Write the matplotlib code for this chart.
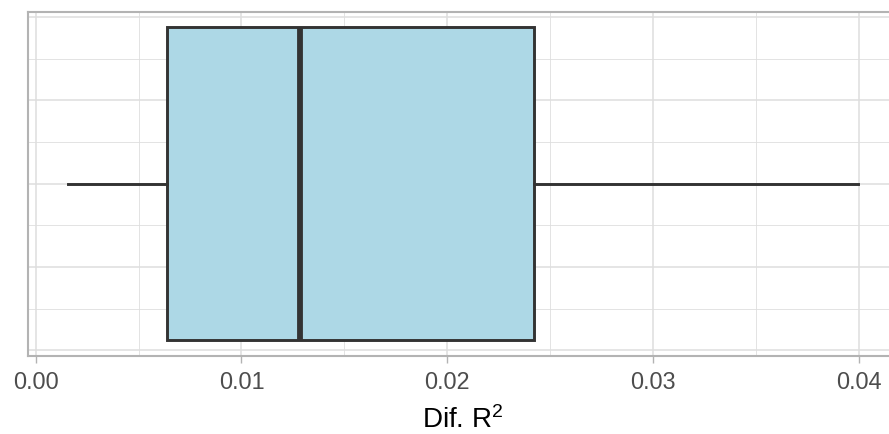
import matplotlib
matplotlib.use("Agg")
import matplotlib.pyplot as plt

# boxplot summary of Dif. R^2
whisker_lo = 0.00155
q1 = 0.00637
median = 0.01283
q3 = 0.02419
whisker_hi = 0.03995

x_major = [0.00, 0.01, 0.02, 0.03, 0.04]
x_minor = [0.005, 0.015, 0.025, 0.035]
x_labels = ["0.00", "0.01", "0.02", "0.03", "0.04"]
y_major = [-0.4, -0.2, 0.0, 0.2, 0.4]
y_minor = [-0.3, -0.1, 0.1, 0.3]

plt.rcParams["font.family"] = ["Liberation Sans", "DejaVu Sans"]
plt.rcParams["mathtext.default"] = "regular"

fig = plt.figure(figsize=(8.89, 4.35), dpi=100)
ax = fig.add_axes([28 / 889, 1 - 356.5 / 435, 869.6 / 889, 343.8 / 435])

stats = [dict(whislo=whisker_lo, q1=q1, med=median, q3=q3, whishi=whisker_hi, fliers=[])]
ax.bxp(stats, positions=[0], widths=0.75, orientation="horizontal", patch_artist=True,
       showcaps=False, zorder=3,
       boxprops=dict(facecolor="#ADD8E6", edgecolor="#333333", linewidth=2.1),
       whiskerprops=dict(color="#333333", linewidth=2.1),
       medianprops=dict(color="#333333", linewidth=4.2, solid_capstyle="butt"))

span = whisker_hi - whisker_lo
ax.set_xlim(whisker_lo - 0.05 * span, whisker_hi + 0.05 * span)
ax.set_ylim(-0.4125, 0.4125)

ax.set_xticks(x_major)
ax.set_xticklabels(x_labels)
ax.set_xticks(x_minor, minor=True)
ax.set_yticks(y_major)
ax.set_yticks(y_minor, minor=True)
ax.tick_params(axis="y", which="both", left=False, labelleft=False)
ax.tick_params(axis="x", which="major", length=5, width=1.0, color="#B3B3B3",
               labelsize=16.8, labelcolor="#4D4D4D", pad=5.5)
ax.tick_params(axis="x", which="minor", length=0)

ax.grid(which="major", color="#DEDEDE", linewidth=1.1, zorder=0)
ax.grid(which="minor", color="#DEDEDE", linewidth=0.6, zorder=0)
ax.set_axisbelow(True)
for s in ax.spines.values():
    s.set_color("#B3B3B3")
    s.set_linewidth(1.5)

ax.set_xlabel("Dif. R$^{2}$", fontsize=20, color="black", labelpad=9)

fig.savefig("out.png", dpi=100)
